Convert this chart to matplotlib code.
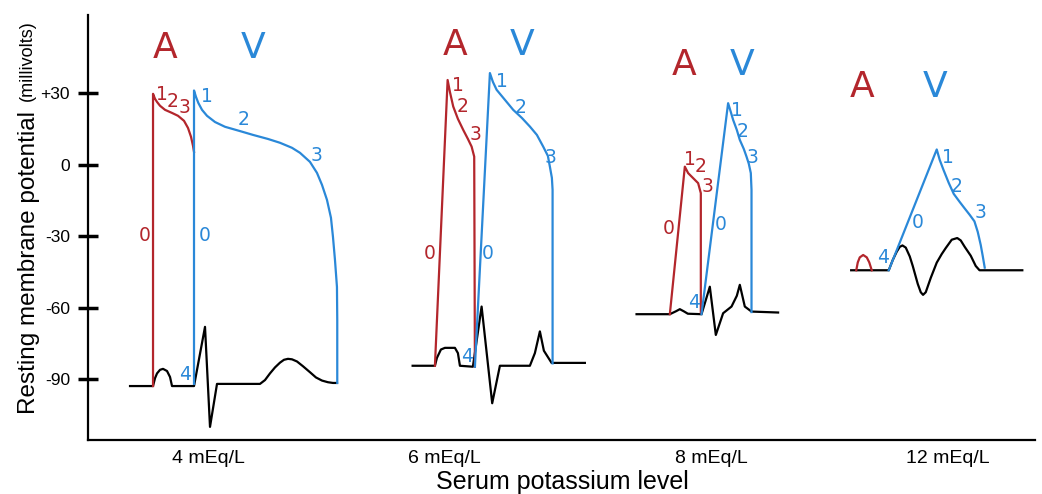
import matplotlib.pyplot as plt

RED = "#b3262c"
BLUE = "#2a88d8"

# y scale in millivolts, x is a plain time/position axis
ytick_vals = [30, 0, -30, -60, -90]
ytick_labels = ["+30", "0", "-30", "-60", "-90"]
group_pos = [208, 444, 712, 948]
group_labels = ["4 mEq/L", "6 mEq/L", "8 mEq/L", "12 mEq/L"]

# ---- 4 mEq/L ----
atr4_t = [153, 153, 155, 157, 160, 165, 172, 178, 184, 188, 191, 193, 194]
atr4_mv = [-92.8, 29.6, 27.5, 26.2, 24.6, 22.9, 21.6, 20.4, 18.3, 15.3, 11.6, 7.8, 5.3]
ven4_t = [194, 194, 196, 198.3, 202, 207, 215, 225, 240, 253, 268, 280, 292, 300,
          310, 317, 322, 327, 331, 333, 335, 337, 337.3, 337.3]
ven4_mv = [-91.9, 31.0, 28.3, 25.8, 22.9, 20.4, 17.8, 15.8, 14.0, 12.4, 10.7, 9.1,
           7.0, 4.9, 1.1, -3.5, -8.5, -14.8, -22.3, -30.3, -39.9, -51.3, -65.2, -91.5]
ecg4_t = [130, 153, 155, 157, 160, 163, 167, 170, 172, 194, 205, 210, 217, 260,
          265, 270, 275, 280, 284, 288, 292, 297, 303, 310, 316, 322, 328, 333, 337]
ecg4_mv = [-92.8, -92.8, -89.5, -87.5, -86.0, -85.6, -86.5, -89.0, -92.8, -92.8,
           -68.0, -109.9, -91.9, -91.9, -90.3, -87.5, -85.0, -83.0, -81.8, -81.4,
           -81.6, -82.5, -84.5, -87.0, -89.2, -90.5, -91.2, -91.5, -91.5]

# ---- 6 mEq/L ----
atr6_t = [435, 447.7, 450, 453.3, 458, 463.3, 468, 471.7, 474.3, 475]
atr6_mv = [-84.3, 35.4, 30.4, 24.3, 19.1, 14.5, 10.7, 7.5, 3.3, -84.7]
ven6_t = [475, 490, 493, 496.7, 505, 513.3, 522, 530, 537, 543.3, 548, 550, 552,
          552.7, 552.7]
ven6_mv = [-84.7, 38.3, 34.6, 31.3, 27.1, 22.9, 19.5, 15.9, 12.4, 7.5, 3.6, -0.9,
           -5.6, -10.6, -83.3]
ecg6_t = [412.7, 435, 437, 441, 445, 455, 458, 460, 473, 481.7, 492.3, 500, 530,
          535, 540, 544, 551.7, 585]
ecg6_mv = [-84.3, -84.3, -81.0, -77.5, -76.8, -76.8, -79.0, -84.3, -84.7, -59.5,
           -100.0, -84.3, -84.3, -79.0, -69.9, -78.0, -83.1, -83.1]

# ---- 8 mEq/L ----
atr8_t = [670, 685, 688.3, 698.3, 701, 701]
atr8_mv = [-62.7, -0.9, -3.6, -7.8, -12.0, -62.0]
ven8_t = [701.7, 728.3, 731, 733.3, 737, 740, 744, 746.7, 749, 751, 751.7, 751.7]
ven8_mv = [-62.7, 25.7, 22.0, 18.7, 14.5, 10.3, 6.5, 3.3, 0.3, -3.6, -10.6, -61.8]
ecg8_t = [636.7, 670, 676, 680, 684, 688, 701.7, 710, 716, 723.3, 731.7, 737, 740,
          745, 751.7, 778.3]
ecg8_mv = [-62.7, -62.7, -61.5, -60.6, -61.5, -62.5, -62.7, -51.2, -71.4, -62.3,
           -59.5, -55.0, -50.4, -59.5, -61.6, -62.0]

# ---- 12 mEq/L ----
atr12_t = [856.5, 858, 860, 863.4, 867, 869.5, 872]
atr12_mv = [-44.3, -41.0, -38.9, -37.9, -38.9, -41.0, -44.3]
ven12_t = [889, 937, 940, 943.8, 949, 954, 960, 964.4, 970, 974.7, 978, 981, 983, 985]
ven12_mv = [-44.3, 6.3, 1.9, -2.3, -7.7, -12.3, -15.7, -18.1, -21.1, -23.8, -28.2,
            -33.7, -38.3, -43.2]
ecg12_t = [851.4, 889, 893, 897, 900, 902.7, 906, 910, 913, 918, 921, 923.3, 926,
           931, 937, 942, 946, 952, 957.5, 961, 965, 971, 976, 979.8, 1022.6]
ecg12_mv = [-44.3, -44.3, -40.0, -36.5, -34.5, -33.9, -34.8, -38.5, -42.5, -50.0,
            -53.5, -54.6, -53.5, -47.5, -41.1, -37.5, -35.0, -31.5, -30.8, -31.8,
            -34.5, -38.2, -42.5, -44.3, -44.3]

# A / V headers (x, mV)
a_pos = [(165, 48.9), (455, 50.1), (684, 41.7), (862, 32.5)]
v_pos = [(253, 48.9), (522, 50.1), (742, 41.7), (935, 32.5)]

# phase numbers (text, x, mV)
red_phases = [("0", 145, -29.9), ("1", 162, 29.2), ("2", 173, 26.6), ("3", 184, 23.7),
              ("0", 430, -37.1), ("1", 458, 33.3), ("2", 463, 24.1), ("3", 476, 12.4),
              ("0", 669, -27.0), ("1", 690, 1.9), ("2", 701, -1.0), ("3", 708, -9.3)]
blue_phases = [("1", 207, 28.3), ("2", 244, 18.7), ("3", 317, 3.6), ("0", 205, -29.9),
               ("4", 185, -88.1),
               ("1", 502, 34.6), ("2", 521, 23.7), ("3", 551, 2.8), ("0", 488, -37.1),
               ("4", 467, -80.6),
               ("1", 737, 22.5), ("2", 743, 14.0), ("3", 753, 2.8), ("0", 721, -25.3),
               ("4", 694, -57.6),
               ("1", 948, 2.8), ("2", 957, -9.3), ("3", 981, -20.3), ("0", 918, -24.5),
               ("4", 883, -38.8)]

plt.rcParams["font.family"] = ["Liberation Sans", "DejaVu Sans"]
fig = plt.figure(figsize=(10.42, 4.94), dpi=100)
ax = fig.add_axes([0.0845, 0.1093, 0.9085, 0.8607])

lw = 1.6
for t, mv in [(ecg4_t, ecg4_mv), (ecg6_t, ecg6_mv), (ecg8_t, ecg8_mv), (ecg12_t, ecg12_mv)]:
    ax.plot(t, mv, color="black", lw=lw, solid_joinstyle="round")
for t, mv in [(atr4_t, atr4_mv), (atr6_t, atr6_mv), (atr8_t, atr8_mv), (atr12_t, atr12_mv)]:
    ax.plot(t, mv, color=RED, lw=lw, solid_joinstyle="round")
for t, mv in [(ven4_t, ven4_mv), (ven6_t, ven6_mv), (ven8_t, ven8_mv), (ven12_t, ven12_mv)]:
    ax.plot(t, mv, color=BLUE, lw=lw, solid_joinstyle="round")

for x, y in a_pos:
    ax.text(x, y, "A", color=RED, fontsize=26, ha="center", va="center", family="DejaVu Sans")
for x, y in v_pos:
    ax.text(x, y, "V", color=BLUE, fontsize=26, ha="center", va="center", family="DejaVu Sans")
for s, x, y in red_phases:
    ax.text(x, y, s, color=RED, fontsize=13.5, ha="center", va="center", family="DejaVu Sans")
for s, x, y in blue_phases:
    ax.text(x, y, s, color=BLUE, fontsize=13.5, ha="center", va="center", family="DejaVu Sans")

ax.set_xlim(88, 1035)
ax.set_ylim(-115.4, 62.7)
ax.set_yticks(ytick_vals, ytick_labels)
ax.set_xticks(group_pos, group_labels)
ax.tick_params(axis="y", direction="inout", length=14, width=2.5, labelsize=12.5, pad=6)
ax.tick_params(axis="x", length=0, labelsize=14, pad=7)
ax.spines["top"].set_visible(False)
ax.spines["right"].set_visible(False)
ax.spines["left"].set_linewidth(1.6)
ax.spines["bottom"].set_linewidth(1.6)

fig.text(29 / 1042, 1 - 262 / 494, "Resting membrane potential", rotation=90,
         ha="center", va="center", fontsize=17.5)
fig.text(27 / 1042, 1 - 61 / 494, "(millivolts)", rotation=90,
         ha="center", va="center", fontsize=13)
fig.text(562 / 1042, 1 - 470 / 494, "Serum potassium level", ha="center", va="top",
         fontsize=18)

fig.savefig("out.png", dpi=100)
